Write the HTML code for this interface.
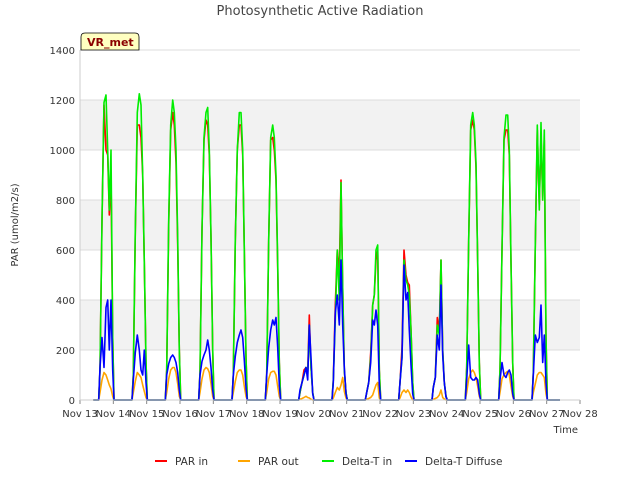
<!DOCTYPE html>
<html><head><meta charset="utf-8"><style>
body{margin:0;background:#fff;font-family:"Liberation Sans","DejaVu Sans",sans-serif}
svg text{font-family:"DejaVu Sans","Liberation Sans",sans-serif}
</style></head><body>
<svg id="c" width="640" height="480" xmlns="http://www.w3.org/2000/svg">
<rect width="640" height="480" fill="#fff"/>
<text x="320" y="15" text-anchor="middle" font-size="13" fill="#444">Photosynthetic Active Radiation</text>
<g id="grid"></g>
<g id="series"></g>
<g id="axes"></g>
<text x="18" y="225" transform="rotate(-90 18 225)" text-anchor="middle" font-size="10" fill="#333">PAR (umol/m2/s)</text>
<text x="578" y="433" text-anchor="end" font-size="10" fill="#333">Time</text>
<g>
<path d="M81,50 L81,37 Q81,33 85,33 L135,33 Q139,33 139,37 L139,50 Z" fill="#ffffc0" stroke="#000" stroke-width="0.8"/>
<text x="87" y="46" font-size="11" font-weight="bold" fill="#8b0000">VR_met</text>
</g>
<g id="legend"></g>
</svg>
<script>
const yTicks=[0,200,400,600,800,1000,1200,1400];
const xTickLabels=["Nov 13","Nov 14","Nov 15","Nov 16","Nov 17","Nov 18","Nov 19","Nov 20","Nov 21","Nov 22","Nov 23","Nov 24","Nov 25","Nov 26","Nov 27","Nov 28"];
const seriesNames=["PAR in","PAR out","Delta-T in","Delta-T Diffuse"];
const seriesColors=["#ff0000","#ffa500","#00ee00","#0000ff"];
const shapeT=[0.56,0.6,0.66,0.72,0.78,0.83,0.88,0.93,0.98,1.02];
const greenDays=[
[0,120,720,1190,1220,1000,760,1000,250,0],[0,100,680,1150,1225,1180,900,550,150,0],[0,120,720,1100,1200,1150,1000,650,200,0],
[0,110,680,1050,1150,1170,1000,650,200,0],[0,100,640,1000,1150,1150,1000,600,170,0],[0,100,640,1050,1100,1050,900,550,150,0],
[0,30,70,100,130,100,300,130,30,0],[0,80,320,600,400,870,450,120,30,0],[0,30,70,170,380,420,600,620,120,0],
[0,70,170,560,480,460,420,280,70,0],[0,50,90,300,260,560,200,70,15,0],[0,130,640,1100,1150,1100,950,550,150,0],
[0,120,600,1050,1140,1140,1000,550,150,0],[0,110,620,1100,760,1110,800,1080,250,0]];
const redDays=[
[0,120,720,1180,1000,980,740,900,250,0],[0,100,670,1100,1100,1050,900,550,150,0],[0,120,700,1080,1150,1100,950,620,200,0],
[0,110,680,1040,1120,1100,980,650,200,0],[0,100,640,1000,1100,1100,980,600,170,0],[0,100,640,1040,1050,1000,880,530,150,0],
[0,30,70,120,130,110,340,130,30,0],[0,80,380,600,500,880,450,120,30,0],[0,30,70,190,380,420,560,600,120,0],
[0,70,210,600,500,470,460,280,70,0],[0,50,90,330,280,560,200,70,15,0],[0,130,640,1080,1120,1080,930,550,150,0],
[0,120,600,1040,1080,1080,980,550,150,0],[0,110,620,1080,780,1060,800,1040,250,0]];
const orangeDays=[
[0,30,80,110,100,80,60,45,15,0],[0,30,75,110,100,90,60,35,10,0],[0,30,85,120,130,130,110,65,15,0],
[0,30,85,120,130,125,110,65,15,0],[0,30,75,110,120,120,100,55,15,0],[0,30,85,110,115,115,100,55,15,0],
[0,3,6,10,15,10,8,3,0,0],[0,8,30,50,40,60,90,35,8,0],[0,3,6,10,20,40,60,70,8,0],
[0,8,30,40,30,40,30,12,0,0],[0,3,6,10,20,40,10,4,0,0],[0,30,85,110,120,110,90,55,15,0],
[0,30,85,100,110,115,100,55,15,0],[0,30,65,100,110,110,100,90,25,0]];
const blueDays=[
[0,130,250,130,370,400,200,400,120,0],[0,80,190,260,200,120,100,200,70,0],[0,100,145,170,180,170,150,110,40,0],
[0,100,155,180,200,240,200,130,40,0],[0,100,175,230,260,280,250,160,50,0],[0,100,210,280,320,300,330,210,60,0],
[0,40,70,100,130,80,300,170,25,0],[0,70,350,420,300,560,300,130,25,0],[0,30,70,150,320,300,360,300,60,0],
[0,70,170,540,400,430,280,140,25,0],[0,50,90,260,200,460,180,70,12,0],[0,80,220,90,80,80,90,80,25,0],
[0,80,150,100,90,110,120,100,25,0],[0,100,260,230,250,380,150,260,70,0]];
const X0=80,X1=580,Y0=400,Y1=50;
const xs=d=>X0+d*(X1-X0)/15, ys=v=>Y0-v*(Y0-Y1)/1400;
const NS="http://www.w3.org/2000/svg";
function mk(tag,attrs,parent){const e=document.createElementNS(NS,tag);for(const k in attrs)e.setAttribute(k,attrs[k]);parent.appendChild(e);return e;}
const grid=document.getElementById('grid'),axes=document.getElementById('axes'),ser=document.getElementById('series'),leg=document.getElementById('legend');
for(let i=0;i<yTicks.length-1;i++){
  if(i%2===1){const r=mk('rect',{x:X0,y:ys(yTicks[i+1]),width:X1-X0,height:ys(yTicks[i])-ys(yTicks[i+1]),fill:'#f2f2f2'},grid);
  
  }
}
yTicks.forEach(v=>{
  const l=mk('line',{x1:X0,x2:X1,y1:ys(v),y2:ys(v),stroke:'#dcdcdc','stroke-width':1},grid);
  
  
  const t=mk('text',{x:X0-5,y:ys(v)+4,'text-anchor':'end','font-size':10,fill:'#333'},axes);t.textContent=v;
  
  
});
xTickLabels.forEach((s,i)=>{
  const x=xs(i);
  const l=mk('line',{x1:x,x2:x,y1:Y0,y2:Y0+4,stroke:'#888'},axes);
  
  
  const t=mk('text',{x:x,y:Y0+17,'text-anchor':'middle','font-size':10,fill:'#333'},axes);t.textContent=s;
  
  
});
const vl=mk('line',{x1:X0,x2:X0,y1:Y1,y2:Y0,stroke:'#ccc'},axes);


const hl=mk('line',{x1:X0,x2:X1,y1:Y0,y2:Y0,stroke:'#ccc'},axes);


function draw(days,color,name){
  let pts=[[xs(0.4),ys(0)]];
  days.forEach((vals,k)=>{shapeT.forEach((t,j)=>pts.push([xs(k+t),ys(vals[j])]));});
  pts.push([xs(14.4),ys(0)]);
  const p=mk('polyline',{points:pts.map(p=>p[0].toFixed(1)+','+p[1].toFixed(1)).join(' '),fill:'none',stroke:color,'stroke-width':1.6,'stroke-linejoin':'round'},ser);
  
  
}
draw(redDays,seriesColors[0],'par-in-line');
draw(orangeDays,seriesColors[1],'par-out-line');
draw(greenDays,seriesColors[2],'delta-t-in-line');
draw(blueDays,seriesColors[3],'delta-t-diffuse-line');
const lx=[155,238,322,405];
seriesNames.forEach((n,i)=>{
  const g=mk('g',{},leg);
  
  
  mk('line',{x1:lx[i],x2:lx[i]+12,y1:461,y2:461,stroke:seriesColors[i],'stroke-width':2},g);
  const t=mk('text',{x:lx[i]+20,y:465,'font-size':10.5,fill:'#333'},g);t.textContent=n;
});
</script>
</body></html>
